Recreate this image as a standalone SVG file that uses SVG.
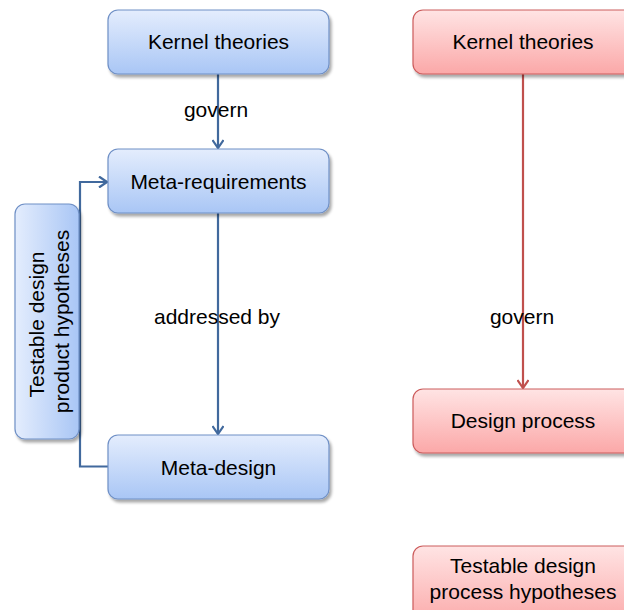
<svg xmlns="http://www.w3.org/2000/svg" width="624" height="610" viewBox="0 0 624 610">
  <defs>
    <linearGradient id="blueV" x1="0" y1="0" x2="0" y2="1">
      <stop offset="0" stop-color="#e4edfd"/>
      <stop offset="1" stop-color="#a9c6f5"/>
    </linearGradient>
    <linearGradient id="blueH" x1="0" y1="0" x2="1" y2="0">
      <stop offset="0" stop-color="#e4edfd"/>
      <stop offset="1" stop-color="#a9c6f5"/>
    </linearGradient>
    <linearGradient id="redV" x1="0" y1="0" x2="0" y2="1">
      <stop offset="0" stop-color="#ffe4e4"/>
      <stop offset="1" stop-color="#fba8a8"/>
    </linearGradient>
    <filter id="shadow" x="-10%" y="-10%" width="130%" height="140%">
      <feGaussianBlur in="SourceAlpha" stdDeviation="1.8"/>
      <feOffset dx="1.5" dy="2.5" result="b"/>
      <feComponentTransfer><feFuncA type="linear" slope="0.35"/></feComponentTransfer>
      <feMerge><feMergeNode/><feMergeNode in="SourceGraphic"/></feMerge>
    </filter>
    <marker id="arrowBlue" viewBox="0 0 12 12" refX="11" refY="6" markerWidth="12" markerHeight="12" markerUnits="userSpaceOnUse" orient="auto">
      <path d="M3,0.5 L11,6 L3,11.5" fill="none" stroke="#41699d" stroke-width="2.2"/>
    </marker>
    <marker id="arrowRed" viewBox="0 0 12 12" refX="11" refY="6" markerWidth="12" markerHeight="12" markerUnits="userSpaceOnUse" orient="auto">
      <path d="M3,0.5 L11,6 L3,11.5" fill="none" stroke="#c0504d" stroke-width="2.2"/>
    </marker>
  </defs>
  <style>
    .blue { fill: url(#blueV); stroke: #6f90c6; stroke-width: 1.2; filter: url(#shadow); }
    .blueside { fill: url(#blueH); stroke: #6f90c6; stroke-width: 1.2; filter: url(#shadow); }
    .red { fill: url(#redV); stroke: #cc5c5c; stroke-width: 1.2; filter: url(#shadow); }
    text { font-family: "Liberation Sans", Arial, sans-serif; font-size: 21px; fill: #000; text-anchor: middle; }
    .cb { fill: none; stroke: #41699d; stroke-width: 2.2; }
    .cr { fill: none; stroke: #c0504d; stroke-width: 2.2; }
  </style>

  <rect width="624" height="610" fill="#ffffff"/>

  <!-- connectors -->
  <g id="connectors">
    <line class="cb" x1="218" y1="74" x2="218" y2="148" marker-end="url(#arrowBlue)"/>
    <line class="cb" x1="218" y1="213" x2="218" y2="434" marker-end="url(#arrowBlue)"/>
    <polyline class="cb" points="108,466.5 80,466.5 80,182 107,182" marker-end="url(#arrowBlue)"/>
    <line class="cr" x1="523" y1="74" x2="523" y2="388" marker-end="url(#arrowRed)"/>
    <text x="216" y="117">govern</text>
    <text x="217" y="324">addressed by</text>
    <text x="522" y="324">govern</text>
  </g>

  <!-- product side -->
  <g id="kernel-theories-product">
    <rect class="blue" x="108" y="10" width="221" height="64" rx="10"/>
    <text x="218.5" y="49">Kernel theories</text>
  </g>
  <g id="meta-requirements">
    <rect class="blue" x="108" y="149" width="221" height="64" rx="10"/>
    <text x="218.5" y="189">Meta-requirements</text>
  </g>
  <g id="meta-design">
    <rect class="blue" x="108" y="435" width="221" height="64" rx="10"/>
    <text x="218.5" y="475">Meta-design</text>
  </g>
  <g id="product-hypotheses">
    <rect class="blueside" x="15" y="204" width="64" height="235" rx="10"/>
    <text transform="translate(50,321.5) rotate(-90)">
      <tspan x="0" y="-6">Testable design</tspan>
      <tspan x="0" y="19">product hypotheses</tspan>
    </text>
  </g>

  <!-- process side -->
  <g id="kernel-theories-process">
    <rect class="red" x="413" y="10" width="221" height="64" rx="10"/>
    <text x="523" y="49">Kernel theories</text>
  </g>
  <g id="design-process">
    <rect class="red" x="413" y="389" width="221" height="64" rx="10"/>
    <text x="523" y="428">Design process</text>
  </g>
  <g id="process-hypotheses">
    <rect class="red" x="413" y="546" width="221" height="80" rx="10"/>
    <text x="523" y="573">Testable design</text>
    <text x="523" y="599">process hypotheses</text>
  </g>
</svg>
